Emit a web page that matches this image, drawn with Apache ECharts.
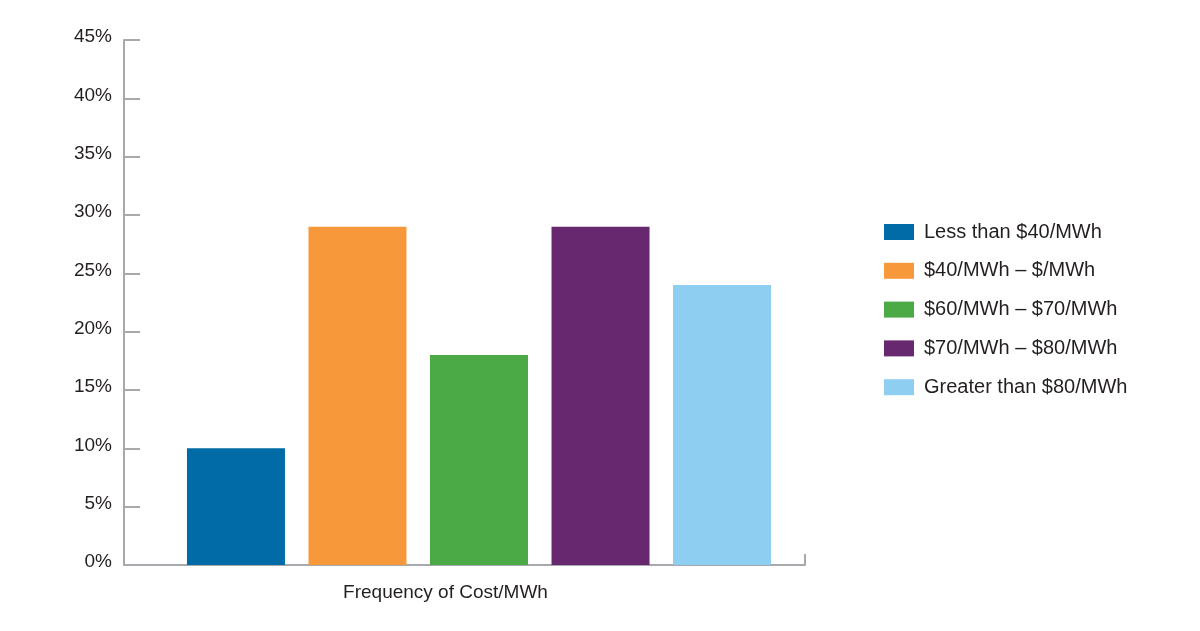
<!DOCTYPE html>
<html>
<head>
<meta charset="utf-8">
<script src="https://cdn.jsdelivr.net/npm/echarts@6/dist/echarts.min.js"></script>
<style>
    html, body { margin: 0; padding: 0; background: #fff; }
    #chart { width: 1200px; height: 631px; }
</style>
</head>
<body>
<div id="chart"></div>
<script>
    var categories = ['Frequency of Cost/MWh'];
    var seriesNames = ['Less than $40/MWh', '$40/MWh \u2013 $/MWh', '$60/MWh \u2013 $70/MWh', '$70/MWh \u2013 $80/MWh', 'Greater than $80/MWh'];
    var seriesValues = [10, 29, 18, 29, 24];
    var seriesColors = ['#006ba6', '#f7993a', '#4ba946', '#67286f', '#8ecff1'];
    var yMin = 0, yMax = 45, yStep = 5;

    var font = '"Liberation Sans", Arial, sans-serif';
    var axisCol = '#a7a9ac';
    var chart = echarts.init(document.getElementById('chart'));

    // bars sit in a second, hidden grid: the group is a bit right of the axis centre
    var series = seriesNames.map(function (name, i) {
        return {
            name: name,
            type: 'bar',
            xAxisIndex: 1,
            yAxisIndex: 1,
            data: [seriesValues[i]],
            barWidth: 98,
            barGap: '24%',
            itemStyle: { color: seriesColors[i] },
            emphasis: { disabled: true }
        };
    });

    var option = {
        animation: false,
        textStyle: { fontFamily: font },
        grid: [
            { left: 124, right: 395, top: 40, bottom: 66 },
            { left: 153, right: 395, top: 40, bottom: 66 }
        ],
        legend: {
            orient: 'vertical',
            left: 884,
            top: 222,
            padding: 0,
            itemWidth: 30,
            itemHeight: 16,
            itemGap: 18.8,
            icon: 'rect',
            textStyle: { fontFamily: font, fontSize: 20, color: '#231f20', padding: [0, 0, 0, 5] },
            data: seriesNames
        },
        xAxis: [{
            type: 'category',
            gridIndex: 0,
            data: categories,
            boundaryGap: true,
            axisLine: { lineStyle: { color: axisCol, width: 2 } },
            axisTick: { show: true, inside: true, length: 11, lineStyle: { color: axisCol, width: 2 } },
            axisLabel: {
                fontFamily: font, fontSize: 19, color: '#231f20', margin: 18,
                padding: [0, 38, 0, 0]
            }
        }, {
            type: 'category',
            gridIndex: 1,
            data: categories,
            show: false
        }],
        yAxis: [{
            type: 'value',
            gridIndex: 0,
            min: yMin,
            max: yMax,
            interval: yStep,
            axisLine: { show: true, lineStyle: { color: axisCol, width: 2 } },
            axisTick: { show: true, inside: true, length: 16, lineStyle: { color: axisCol, width: 2 } },
            splitLine: { show: false },
            axisLabel: {
                fontFamily: font, fontSize: 19, color: '#231f20', margin: 12,
                formatter: function (v) { return v + '%'; },
                verticalAlign: 'bottom',
                lineHeight: 6
            }
        }, {
            type: 'value',
            gridIndex: 1,
            min: yMin,
            max: yMax,
            interval: yStep,
            show: false,
            splitLine: { show: false }
        }],
        series: series
    };

    chart.setOption(option);
</script>
</body>
</html>
